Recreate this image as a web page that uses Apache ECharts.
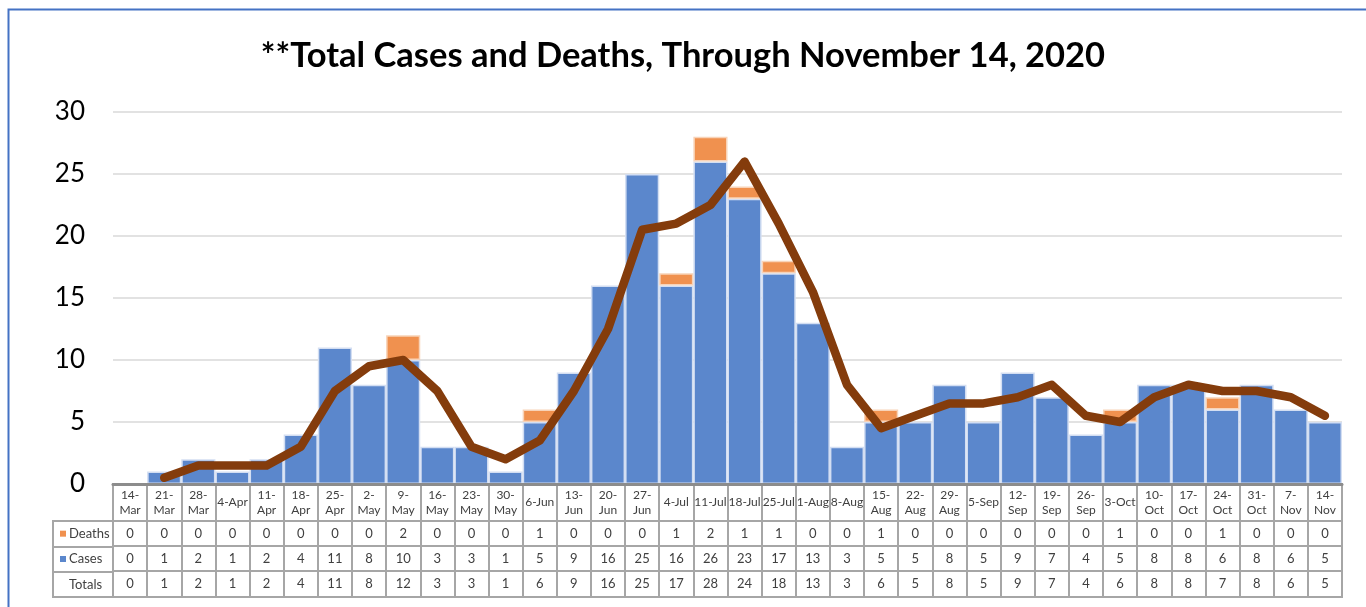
<!DOCTYPE html>
<html>
<head>
<meta charset="utf-8">
<script src="https://cdn.jsdelivr.net/npm/echarts@6/dist/echarts.min.js"></script>
<style>
html,body{margin:0;padding:0;background:#fff;}
#c{width:1366px;height:607px;}
</style>
</head>
<body>
<div id="c"></div>
<script>
// ---- data ----
const categories = ['14-\nMar','21-\nMar','28-\nMar','4-Apr','11-\nApr','18-\nApr','25-\nApr','2-\nMay','9-\nMay','16-\nMay','23-\nMay','30-\nMay','6-Jun','13-\nJun','20-\nJun','27-\nJun','4-Jul','11-Jul','18-Jul','25-Jul','1-Aug','8-Aug','15-\nAug','22-\nAug','29-\nAug','5-Sep','12-\nSep','19-\nSep','26-\nSep','3-Oct','10-\nOct','17-\nOct','24-\nOct','31-\nOct','7-\nNov','14-\nNov'];
const deaths = [0,0,0,0,0,0,0,0,2,0,0,0,1,0,0,0,1,2,1,1,0,0,1,0,0,0,0,0,0,1,0,0,1,0,0,0];
const cases  = [0,1,2,1,2,4,11,8,10,3,3,1,5,9,16,25,16,26,23,17,13,3,5,5,8,5,9,7,4,5,8,8,6,8,6,5];
const totals = [0,1,2,1,2,4,11,8,12,3,3,1,6,9,16,25,17,28,24,18,13,3,6,5,8,5,9,7,4,6,8,8,7,8,6,5];
const trend  = ['-',0.5,1.5,1.5,1.5,3,7.5,9.5,10,7.5,3,2,3.5,7.5,12.5,20.5,21,22.5,26,21,15.5,8,4.5,5.5,6.5,6.5,7,8,5.5,5,7,8,7.5,7.5,7,5.5];
const rowNames = ['Deaths','Cases','Totals'];
const yTicks = {min:0, max:30, interval:5};

const FONT = 'Lato';
const ORANGE = '#f0914f', BLUE = '#5b87cc', LINE = '#843c0c', BORDER = '#a6a6a6', TXT = '#404040';

const chart = echarts.init(document.getElementById('c'), null, {renderer:'canvas'});

const L = 113, R = 24;
const rowGrids = [
  {top:484, height:37, fs:12},
  {top:521, height:25, fs:13},
  {top:546, height:25, fs:13},
  {top:571, height:26, fs:13}
];
const rowData = [categories, deaths.map(String), cases.map(String), totals.map(String)];

const grids = [{left:L, right:R, top:112, bottom:123}];
rowGrids.forEach(g => grids.push({left:L, right:R, top:g.top, height:g.height, show:true, borderColor:BORDER, borderWidth:2, backgroundColor:'#fff'}));
grids.push({left:53, width:60, top:521, height:76, show:true, borderColor:BORDER, borderWidth:2, backgroundColor:'#fff'});

const xAxes = [{
  gridIndex:0, type:'category', data:categories,
  axisLabel:{show:false}, axisTick:{show:false},
  axisLine:{lineStyle:{color:'#8c8c8c', width:3}}, z:5
}];
const yAxes = [{
  gridIndex:0, type:'value', min:yTicks.min, max:yTicks.max, interval:yTicks.interval,
  axisLine:{show:false}, axisTick:{show:false},
  axisLabel:{fontFamily:FONT, fontSize:26, color:'#000', margin:28},
  splitLine:{lineStyle:{color:'#d9d9d9', width:1.5}}
}];
rowGrids.forEach((g,i) => {
  xAxes.push({
    gridIndex:i+1, type:'category', data:rowData[i], position:'bottom',
    axisLine:{show:false}, axisTick:{show:false},
    splitLine:{show:true, interval:0, lineStyle:{color:BORDER, width:2}},
    axisLabel:{inside:true, interval:0, margin:g.height/2, verticalAlign:'middle',
      fontFamily:FONT, fontSize:g.fs, lineHeight:15, color:TXT}
  });
  yAxes.push({gridIndex:i+1, type:'value', show:false});
});
xAxes.push({gridIndex:5, type:'value', show:false});
yAxes.push({
  gridIndex:5, type:'category', data:rowNames, inverse:true,
  axisLine:{show:false}, axisTick:{show:false},
  splitLine:{show:true, interval:0, lineStyle:{color:BORDER, width:2}},
  axisLabel:{inside:true, interval:0, margin:7, align:'left', verticalAlign:'middle',
    fontFamily:FONT, fontSize:13, color:TXT,
    formatter:function(v){
      if (v==='Deaths') return '{d|}{t|'+v+'}';
      if (v==='Cases') return '{c|}{t|'+v+'}';
      return '{p|}{t|'+v+'}';
    },
    rich:{
      d:{width:6, height:6, backgroundColor:ORANGE},
      c:{width:6, height:6, backgroundColor:BLUE},
      p:{width:6, height:6},
      t:{fontFamily:FONT, fontSize:13, color:TXT, padding:[0,0,0,3]}
    }
  }
});

const option = {
  backgroundColor:'#fff',
  animation:false,
  title:{
    text:'**Total Cases and Deaths, Through November 14, 2020',
    left:'center', top:33,
    textStyle:{fontFamily:FONT, fontSize:34.5, fontWeight:'bold', color:'#000'}
  },
  graphic:[{type:'rect', shape:{x:8.5, y:9.5, width:1400, height:700}, style:{fill:null, stroke:'#4472c4', lineWidth:2}, silent:true}],
  grid:grids,
  xAxis:xAxes,
  yAxis:yAxes,
  series:[
    {name:'Cases', type:'bar', stack:'t', data:cases.map(v => v === 0 ? '-' : v), barCategoryGap:0, xAxisIndex:0, yAxisIndex:0,
      itemStyle:{color:BLUE, borderColor:'#d3def2', borderWidth:1.5}},
    {name:'Deaths', type:'bar', stack:'t', data:deaths.map(v => v === 0 ? '-' : v), xAxisIndex:0, yAxisIndex:0,
      itemStyle:{color:ORANGE, borderColor:'#f8d3b8', borderWidth:1.5}},
    {name:'Trend', type:'line', data:trend, xAxisIndex:0, yAxisIndex:0, symbol:'none', z:10,
      lineStyle:{color:LINE, width:8.5, cap:'round', join:'round'}}
  ]
};
chart.setOption(option);
</script>
</body>
</html>
